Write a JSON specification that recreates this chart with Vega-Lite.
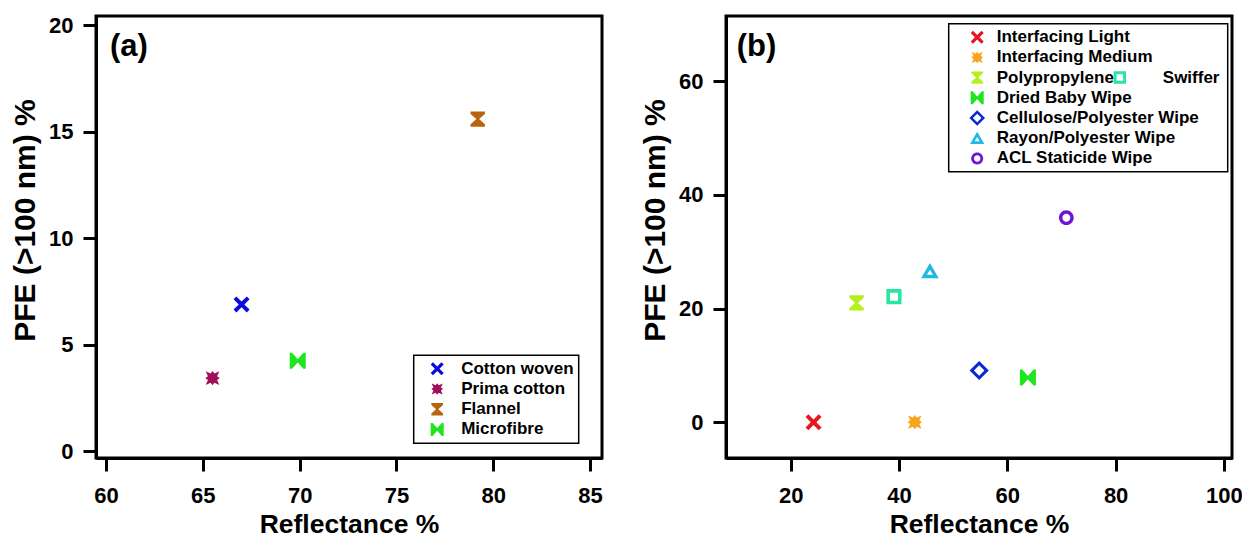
{
  "$schema": "https://vega.github.io/schema/vega-lite/v6.json",
  "padding": {"left": 9, "top": 12, "right": 0, "bottom": 0},
  "background": "white",
  "bounds": "flush",
  "spacing": 124,
  "config": {
    "font": "Liberation Sans",
    "view": {"stroke": "black", "strokeWidth": 3},
    "axis": {
      "domainColor": "black", "domainWidth": 3,
      "tickColor": "black", "tickWidth": 3, "tickSize": 13,
      "labelFont": "Liberation Sans", "labelFontWeight": "bold", "labelFontSize": 22, "labelColor": "black",
      "titleFont": "Liberation Sans", "titleFontWeight": "bold", "titleColor": "black",
      "grid": false, "labelFlush": false, "labelOverlap": false
    },
    "axisX": {"titleFontSize": 26.5, "labelPadding": 14, "titlePadding": 5},
    "axisY": {"titleFontSize": 30, "labelPadding": 10, "titlePadding": 8, "titleY": 204},
    "legend": {
      "title": null,
      "orient": "none",
      "labelFont": "Liberation Sans", "labelFontSize": 17, "labelFontWeight": "bold", "labelColor": "black",
      "labelLimit": 0, "symbolSize": 170, "symbolOpacity": 1, "symbolStrokeWidth": 0,
      "rowPadding": 2.2, "padding": 5
    }
  },
  "hconcat": [
    {
      "width": 506,
      "height": 442,
      "layer": [
        {
          "data": {"values": [
            {"material": "Cotton woven", "reflectance": 67.0, "pfe": 6.9},
            {"material": "Prima cotton", "reflectance": 65.5, "pfe": 3.44},
            {"material": "Flannel", "reflectance": 79.2, "pfe": 15.6},
            {"material": "Microfibre", "reflectance": 69.9, "pfe": 4.25}
          ]},
          "mark": {"type": "point", "filled": true, "opacity": 1, "size": 256, "strokeWidth": 0},
          "encoding": {
            "x": {"field": "reflectance", "type": "quantitative",
                  "scale": {"domain": [59.48, 85.62], "nice": false, "zero": false},
                  "axis": {"values": [60, 65, 70, 75, 80, 85], "title": "Reflectance %"}},
            "y": {"field": "pfe", "type": "quantitative",
                  "scale": {"domain": [-0.31, 20.44], "nice": false, "zero": false},
                  "axis": {"values": [0, 5, 10, 15, 20], "title": "PFE (>100 nm) %"}},
            "color": {"field": "material", "type": "nominal",
                      "scale": {"domain": ["Cotton woven", "Prima cotton", "Flannel", "Microfibre"],
                                "range": ["#0a0adc", "#a0105a", "#b8640f", "#1ee61e"]},
                      "legend": {"legendX": 317.7, "legendY": 339.3, "strokeColor": "black", "fillColor": "white", "symbolOffset": 10, "labelOffset": 15.5,
                                 "encode": {"legend": {"update": {"strokeWidth": {"value": 1.5}}}}}},
            "shape": {"field": "material", "type": "nominal",
                      "scale": {"domain": ["Cotton woven", "Prima cotton", "Flannel", "Microfibre"],
                                "range": [
                                  "M-1,-0.65L-0.65,-1L0,-0.35L0.65,-1L1,-0.65L0.35,0L1,0.65L0.65,1L0,0.35L-0.65,1L-1,0.65L-0.35,0Z",
                                  "M0.9,0L0.573,0.237L0.85,0.85L0.237,0.573L0,0.9L-0.237,0.573L-0.85,0.85L-0.573,0.237L-0.9,0L-0.573,-0.237L-0.85,-0.85L-0.237,-0.573L0,-0.9L0.237,-0.573L0.85,-0.85L0.573,-0.237Z",
                                  "M-0.9,-0.95L0.9,-0.95L0.9,-0.65L0.17,0L0.9,0.65L0.9,0.95L-0.9,0.95L-0.9,0.65L-0.17,0L-0.9,-0.65Z",
                                  "M-1,-1L-0.7,-1L0,-0.2L0.7,-1L1,-1L1,1L0.7,1L0,0.2L-0.7,1L-1,1Z"
                                ]}}
          }
        },
        {
          "data": {"values": [{"tag": "(a)"}]},
          "mark": {"type": "text", "fontSize": 31, "fontWeight": "bold", "align": "left", "baseline": "middle", "color": "black", "font": "Liberation Sans"},
          "encoding": {
            "x": {"datum": 60.2},
            "y": {"datum": 19.0},
            "text": {"field": "tag"}
          }
        }
      ]
    },
    {
      "width": 506,
      "height": 442,
      "layer": [
        {
          "data": {"values": [
            {"material": "Interfacing Light", "reflectance": 24.2, "pfe": 0.0},
            {"material": "Interfacing Medium", "reflectance": 42.9, "pfe": 0.0},
            {"material": "Polypropylene", "reflectance": 32.15, "pfe": 21.0},
            {"material": "Dried Baby Wipe", "reflectance": 63.8, "pfe": 7.85},
            {"material": "Cellulose/Polyester Wipe", "reflectance": 54.8, "pfe": 9.1},
            {"material": "Rayon/Polyester Wipe", "reflectance": 45.7, "pfe": 26.6},
            {"material": "ACL Staticide Wipe", "reflectance": 70.9, "pfe": 36.0}
          ]},
          "mark": {"type": "point", "filled": true, "opacity": 1, "size": 256, "strokeWidth": 0},
          "encoding": {
            "x": {"field": "reflectance", "type": "quantitative",
                  "scale": {"domain": [8.03, 101.5], "nice": false, "zero": false},
                  "axis": {"values": [20, 40, 60, 80, 100], "title": "Reflectance %"}},
            "y": {"field": "pfe", "type": "quantitative",
                  "scale": {"domain": [-6.3, 71.5], "nice": false, "zero": false},
                  "axis": {"values": [0, 20, 40, 60], "title": "PFE (>100 nm) %"}},
            "color": {"field": "material", "type": "nominal",
                      "scale": {"domain": ["Interfacing Light", "Interfacing Medium", "Polypropylene", "Dried Baby Wipe", "Cellulose/Polyester Wipe", "Rayon/Polyester Wipe", "ACL Staticide Wipe"],
                                "range": ["#e8141e", "#f8a51e", "#b4f01e", "#1ee61e", "#0a28d2", "#1eb9e6", "#6e14d2"]},
                      "legend": {"legendX": 222.7, "legendY": 7.7, "strokeColor": "black", "fillColor": "white", "symbolOffset": 15, "labelOffset": 11,
                                 "labelExpr": "datum.label + '\u00a0\u00a0\u00a0\u00a0\u00a0\u200b'",
                                 "encode": {"legend": {"update": {"strokeWidth": {"value": 1.5}}}}}},
            "shape": {"field": "material", "type": "nominal",
                      "scale": {"domain": ["Interfacing Light", "Interfacing Medium", "Polypropylene", "Dried Baby Wipe", "Cellulose/Polyester Wipe", "Rayon/Polyester Wipe", "ACL Staticide Wipe"],
                                "range": [
                                  "M-1,-0.65L-0.65,-1L0,-0.35L0.65,-1L1,-0.65L0.35,0L1,0.65L0.65,1L0,0.35L-0.65,1L-1,0.65L-0.35,0Z",
                                  "M0.9,0L0.573,0.237L0.85,0.85L0.237,0.573L0,0.9L-0.237,0.573L-0.85,0.85L-0.573,0.237L-0.9,0L-0.573,-0.237L-0.85,-0.85L-0.237,-0.573L0,-0.9L0.237,-0.573L0.85,-0.85L0.573,-0.237Z",
                                  "M-0.9,-0.95L0.9,-0.95L0.9,-0.65L0.17,0L0.9,0.65L0.9,0.95L-0.9,0.95L-0.9,0.65L-0.17,0L-0.9,-0.65Z",
                                  "M-1,-1L-0.7,-1L0,-0.2L0.7,-1L1,-1L1,1L0.7,1L0,0.2L-0.7,1L-1,1Z",
                                  "M0,-1.2L1.2,0L0,1.2L-1.2,0ZM0,-0.66L-0.66,0L0,0.66L0.66,0Z",
                                  "M0,-1L1.1,0.88L-1.1,0.88ZM0,-0.18L-0.38,0.47L0.38,0.47Z",
                                  "M-0.92,0A0.92,0.92 0 1,0 0.92,0A0.92,0.92 0 1,0 -0.92,0ZM-0.5,0A0.5,0.5 0 1,1 0.5,0A0.5,0.5 0 1,1 -0.5,0Z"
                                ]}}
          }
        },
        {
          "data": {"values": [
            {"material": "Swiffer", "reflectance": 39.06, "pfe": 22.1}
          ]},
          "mark": {"type": "point", "filled": true, "opacity": 1, "size": 256, "strokeWidth": 0},
          "encoding": {
            "x": {"field": "reflectance", "type": "quantitative"},
            "y": {"field": "pfe", "type": "quantitative"},
            "color": {"field": "material", "type": "nominal",
                      "scale": {"domain": ["Swiffer"], "range": ["#28e6a0"]},
                      "legend": {"legendX": 385.3, "legendY": 53.0, "padding": 0, "labelOffset": 34.5}},
            "shape": {"field": "material", "type": "nominal",
                      "scale": {"domain": ["Swiffer"],
                                "range": ["M-0.95,-0.95L0.95,-0.95L0.95,0.95L-0.95,0.95ZM-0.5,-0.5L-0.5,0.5L0.5,0.5L0.5,-0.5Z"]}}
          }
        },
        {
          "data": {"values": [{"tag": "(b)"}]},
          "mark": {"type": "text", "fontSize": 31, "fontWeight": "bold", "align": "left", "baseline": "middle", "color": "black", "font": "Liberation Sans"},
          "encoding": {
            "x": {"datum": 10.0},
            "y": {"datum": 66.0},
            "text": {"field": "tag"}
          }
        }
      ],
      "resolve": {"scale": {"color": "independent", "shape": "independent"}}
    }
  ]
}
